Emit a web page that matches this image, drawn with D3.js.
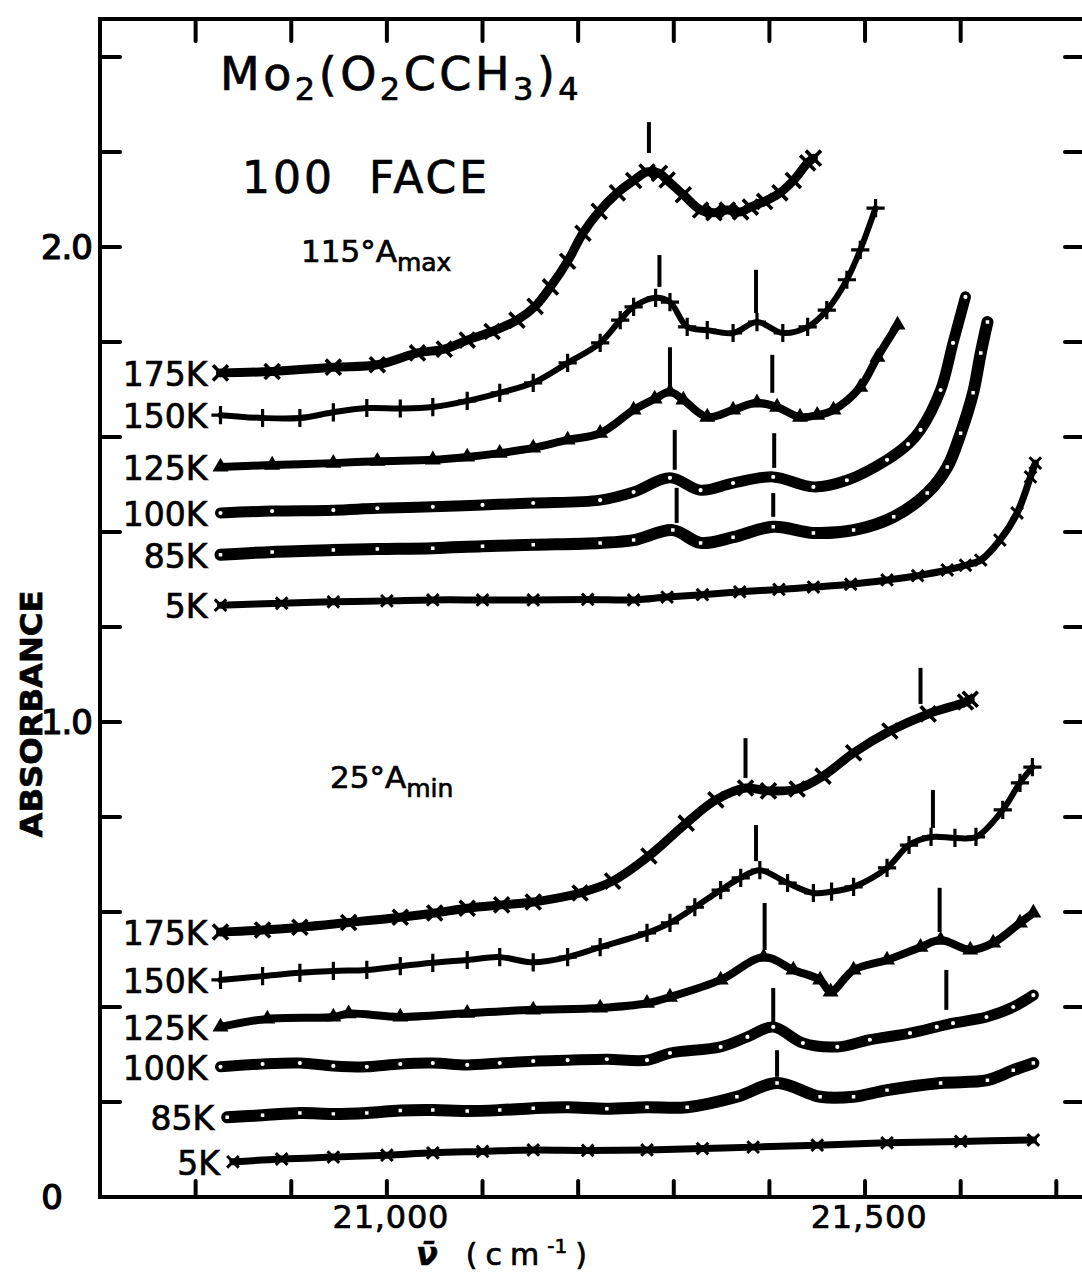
<!DOCTYPE html>
<html>
<head>
<meta charset="utf-8">
<script src="https://cdn.jsdelivr.net/npm/d3@7"></script>
<style>
  html, body { margin: 0; padding: 0; background: #fff; }
  svg { display: block; }
  text { font-family: "DejaVu Sans", "Noto Sans", sans-serif; fill: #000; stroke: #000; stroke-width: 0.7; }
</style>
</head>
<body>
<svg id="chart" width="1082" height="1273"></svg>
<script>
// Absorbance spectra of Mo2(O2CCH3)4, (100) face — [wavenumber cm^-1, absorbance]

// 115° polarisation (A max)
const max175K = [[20826,1.735],[20880,1.738],[20944,1.747],[20990,1.752],[21032,1.777],[21060,1.785],[21084,1.804],[21110,1.822],[21136,1.846],[21155,1.875],[21171,1.916],[21189,1.970],[21205,2.029],[21222,2.075],[21241,2.114],[21258,2.140],[21272,2.158],[21285,2.155],[21293,2.141],[21310,2.110],[21328,2.078],[21342,2.072],[21356,2.078],[21370,2.074],[21380,2.084],[21395,2.096],[21411,2.114],[21425,2.140],[21440,2.177],[21446,2.187]];
const max150K = [[20826,1.646],[20870,1.640],[20909,1.640],[20944,1.652],[20979,1.661],[21014,1.660],[21048,1.663],[21084,1.676],[21118,1.693],[21153,1.714],[21189,1.756],[21223,1.798],[21244,1.846],[21258,1.874],[21281,1.893],[21296,1.884],[21314,1.832],[21335,1.825],[21362,1.819],[21387,1.842],[21414,1.819],[21440,1.832],[21460,1.867],[21481,1.931],[21495,1.994],[21511,2.082]];
const max125K = [[20826,1.537],[20880,1.541],[20944,1.545],[20990,1.549],[21048,1.552],[21084,1.558],[21118,1.566],[21153,1.577],[21189,1.594],[21223,1.608],[21258,1.657],[21280,1.680],[21296,1.695],[21310,1.678],[21335,1.642],[21362,1.657],[21387,1.672],[21408,1.663],[21432,1.642],[21450,1.646],[21467,1.657],[21495,1.705],[21513,1.768],[21534,1.836]];
const max100K = [[20826,1.440],[20880,1.444],[20944,1.446],[20990,1.450],[21048,1.453],[21100,1.457],[21153,1.461],[21223,1.467],[21258,1.484],[21296,1.514],[21328,1.488],[21362,1.503],[21404,1.516],[21446,1.495],[21481,1.509],[21523,1.552],[21545,1.585],[21558,1.615],[21579,1.699],[21592,1.798],[21605,1.895]];
const max85K = [[20826,1.352],[20880,1.358],[20944,1.362],[20990,1.364],[21048,1.366],[21100,1.370],[21153,1.373],[21223,1.377],[21258,1.383],[21299,1.404],[21328,1.377],[21362,1.389],[21404,1.411],[21446,1.398],[21488,1.404],[21530,1.432],[21565,1.482],[21586,1.537],[21600,1.608],[21613,1.693],[21621,1.777],[21628,1.842]];
const max5K = [[20826,1.246],[20890,1.250],[20944,1.253],[21000,1.255],[21048,1.257],[21100,1.257],[21153,1.257],[21210,1.258],[21258,1.257],[21293,1.263],[21330,1.268],[21369,1.274],[21410,1.279],[21446,1.284],[21485,1.290],[21523,1.299],[21555,1.308],[21586,1.320],[21605,1.330],[21621,1.341],[21641,1.383],[21659,1.440],[21673,1.516],[21678,1.545]];

// 25° polarisation (A min)
const min175K = [[20826,0.558],[20870,0.562],[20909,0.568],[20960,0.578],[21014,0.589],[21050,0.598],[21084,0.608],[21120,0.615],[21153,0.621],[21202,0.640],[21236,0.665],[21274,0.718],[21313,0.787],[21344,0.836],[21375,0.861],[21399,0.855],[21429,0.859],[21456,0.886],[21488,0.935],[21526,0.981],[21566,1.017],[21605,1.042],[21610,1.048]];
const min150K = [[20826,0.457],[20870,0.465],[20909,0.472],[20944,0.476],[20979,0.478],[21014,0.486],[21048,0.493],[21084,0.499],[21118,0.505],[21153,0.494],[21189,0.505],[21223,0.526],[21272,0.556],[21296,0.577],[21322,0.610],[21349,0.646],[21370,0.672],[21390,0.688],[21419,0.661],[21446,0.640],[21465,0.643],[21488,0.653],[21523,0.693],[21546,0.741],[21569,0.758],[21594,0.756],[21616,0.758],[21644,0.815],[21662,0.872],[21675,0.905]];
const min125K = [[20826,0.358],[20875,0.375],[20944,0.379],[20960,0.386],[21014,0.379],[21084,0.387],[21153,0.394],[21223,0.398],[21272,0.408],[21296,0.421],[21349,0.457],[21394,0.505],[21425,0.478],[21453,0.457],[21464,0.432],[21488,0.478],[21523,0.499],[21558,0.526],[21579,0.541],[21610,0.520],[21634,0.535],[21662,0.577],[21676,0.598]];
const min100K = [[20826,0.274],[20870,0.280],[20909,0.282],[20944,0.276],[20979,0.274],[21014,0.280],[21048,0.282],[21084,0.278],[21118,0.282],[21153,0.286],[21189,0.288],[21230,0.290],[21272,0.288],[21296,0.303],[21349,0.316],[21377,0.337],[21404,0.358],[21435,0.324],[21471,0.316],[21505,0.331],[21547,0.345],[21575,0.358],[21592,0.366],[21627,0.379],[21655,0.400],[21676,0.425]];
const min85K = [[20833,0.168],[20870,0.172],[20909,0.177],[20944,0.175],[20979,0.177],[21014,0.182],[21048,0.183],[21084,0.181],[21118,0.183],[21153,0.187],[21189,0.189],[21230,0.186],[21272,0.189],[21314,0.189],[21366,0.211],[21408,0.240],[21453,0.211],[21488,0.211],[21523,0.225],[21579,0.240],[21628,0.246],[21655,0.267],[21676,0.282]];
const min5K = [[20839,0.074],[20890,0.080],[20944,0.084],[21000,0.088],[21048,0.093],[21100,0.096],[21153,0.099],[21210,0.098],[21272,0.099],[21330,0.102],[21383,0.105],[21450,0.109],[21523,0.114],[21600,0.117],[21676,0.120]];

const temperatures = ["175K", "150K", "125K", "100K", "85K", "5K"];
const maxSeries = [max175K, max150K, max125K, max100K, max85K, max5K];
const minSeries = [min175K, min150K, min125K, min100K, min85K, min5K];

// band positions marked above the curves: [wavenumber, lower absorbance, upper absorbance]
const maxBands = [[21274,2.198,2.263],[21285,1.916,1.983],[21386,1.861,1.952],[21296,1.705,1.789],[21403,1.693,1.773],[21301,1.531,1.615],[21405,1.535,1.608],[21303,1.419,1.493],[21404,1.432,1.482]];
const minBands = [[21375,0.882,0.966],[21558,1.038,1.114],[21386,0.707,0.783],[21571,0.777,0.857],[21395,0.520,0.619],[21578,0.558,0.651],[21404,0.368,0.440],[21585,0.394,0.478],[21408,0.253,0.309]];

const xTickValues = [20800, 20900, 21000, 21100, 21200, 21300, 21400, 21500, 21600, 21700];
const xTickLabels = [[21000, "21,000"], [21500, "21,500"]];
const yTickValues = [0.2, 0.4, 0.6, 0.8, 1.0, 1.2, 1.4, 1.6, 1.8, 2.0, 2.2, 2.4];
const yTickLabels = [[0, "0"], [1.0, "1.0"], [2.0, "2.0"]];

const svg = d3.select("#chart");
svg.append("rect").attr("width", 1082).attr("height", 1273).attr("fill", "#fff");

const x = d3.scaleLinear().domain([20700, 21730]).range([100, 1085]);
const y = d3.scaleLinear().domain([0, 2.48]).range([1197, 19]);

// frame
const [x0, x1] = x.range();
const [yb, yt] = y.range();
svg.append("rect")
  .attr("x", x0).attr("y", yt).attr("width", x1 - x0).attr("height", yb - yt)
  .attr("fill", "none").attr("stroke", "#000").attr("stroke-width", 4);

// inward ticks on all four sides
const ticks = svg.append("g").attr("stroke", "#000").attr("stroke-width", 4).attr("stroke-linecap", "round");
ticks.selectAll(".tb").data(xTickValues).join("line")
  .attr("x1", d => x(d)).attr("x2", d => x(d)).attr("y1", yb).attr("y2", yb - 16);
ticks.selectAll(".tt").data(xTickValues.filter(d => d < 21700)).join("line")
  .attr("x1", d => x(d)).attr("x2", d => x(d)).attr("y1", yt).attr("y2", yt + 22);
ticks.selectAll(".tl").data(yTickValues).join("line")
  .attr("y1", d => y(d)).attr("y2", d => y(d)).attr("x1", x0).attr("x2", x0 + 20);
ticks.selectAll(".tr").data(yTickValues).join("line")
  .attr("y1", d => y(d)).attr("y2", d => y(d)).attr("x1", x1).attr("x2", x1 - 20);

// tick labels
svg.selectAll(".xl").data(xTickLabels).join("text")
  .attr("x", d => x(d[0]) + 4).attr("y", yb + 31)
  .attr("text-anchor", "middle").attr("font-size", 32)
  .attr("font-family", "'Liberation Sans', Arial, sans-serif")
  .attr("letter-spacing", 0.8)
  .text(d => d[1]);
svg.selectAll(".yl").data(yTickLabels).join("text")
  .attr("x", d => d[0] === 0 ? 62 : 92).attr("y", d => y(d[0]) + 12)
  .attr("text-anchor", "end").attr("font-size", 34).attr("letter-spacing", -1)
  .attr("font-family", "'Liberation Sans', Arial, sans-serif")
  .style("stroke-width", 1.2)
  .text(d => d[1]);

// axis titles
svg.append("text")
  .attr("transform", `translate(42, ${y(1.0) - 8}) rotate(-90)`)
  .attr("text-anchor", "middle").attr("font-size", 31).attr("font-weight", "bold")
  .attr("textLength", 247).attr("lengthAdjust", "spacingAndGlyphs")
  .text("ABSORBANCE");

const xt = svg.append("text").attr("x", 416).attr("y", 1265).attr("font-size", 30);
xt.append("tspan").attr("font-style", "italic").attr("font-weight", "bold").attr("font-size", 32).text("\u03BD\u0304");
xt.append("tspan").attr("dx", 28).attr("letter-spacing", 8).text("(cm");
xt.append("tspan").attr("dy", -12).attr("font-size", 20).text("-1");
xt.append("tspan").attr("dy", 12).attr("dx", 8).text(")");

// headings
const title = svg.append("text").attr("x", 220).attr("y", 90).attr("font-size", 44).attr("letter-spacing", 3.5);
[["Mo", 0], ["2", 1], ["(O", 0], ["2", 1], ["CCH", 0], ["3", 1], [")", 0], ["4", 1]].forEach(([t, sub], i, arr) => {
  const prevSub = i > 0 ? arr[i - 1][1] : 0;
  title.append("tspan")
    .attr("dy", sub && !prevSub ? 10 : (!sub && prevSub ? -10 : 0))
    .attr("font-size", sub ? 32 : 46)
    .text(t);
});

svg.append("text").attr("x", 242).attr("y", 193).attr("font-size", 44)
  .attr("letter-spacing", 3).attr("xml:space", "preserve").text("100  FACE");

function polLabel(txt, sub, px, py) {
  const t = svg.append("text").attr("x", px).attr("y", py).attr("font-size", 31);
  t.append("tspan").text(txt);
  t.append("tspan").attr("dy", 9).attr("font-size", 25).text(sub);
}
polLabel("115°A", "max", 301, 262);
polLabel("25°A", "min", 330, 788);

// spectra
const line = d3.line().x(d => x(d[0])).y(d => y(d[1])).curve(d3.curveCatmullRom.alpha(0.5));

const markers = [
  { shape: d3.symbolTimes, size: 150, width: 9, sw: 3.6, fill: "none" },
  { shape: d3.symbolPlus, size: 110, width: 6, sw: 3.2, fill: "none" },
  { shape: d3.symbolTriangle, size: 110, width: 8, sw: 0, fill: "#000" },
  { shape: d3.symbolCircle, size: 30, width: 11, sw: 2, fill: "#fff" },
  { shape: d3.symbolSquare, size: 30, width: 12, sw: 2, fill: "#fff" },
  { shape: d3.symbolTimes, size: 90, width: 7, sw: 3, fill: "none" }
];

function drawSet(series) {
  series.forEach((data, i) => {
    const m = markers[i];
    const g = svg.append("g");
    g.append("path").datum(data).attr("d", line)
      .attr("fill", "none").attr("stroke", "#000")
      .attr("stroke-width", m.width).attr("stroke-linejoin", "round").attr("stroke-linecap", "round");
    g.selectAll("path.m").data(data).join("path").attr("class", "m")
      .attr("transform", d => `translate(${x(d[0])},${y(d[1])})`)
      .attr("d", d3.symbol(m.shape, m.size))
      .attr("fill", m.fill)
      .attr("stroke", "#000").attr("stroke-width", m.sw);
    // temperature label beside the start of each trace
    svg.append("text")
      .attr("x", x(data[0][0]) - 13).attr("y", y(data[0][1]) + 13)
      .attr("text-anchor", "end").attr("font-size", 33)
      .text(temperatures[i]);
  });
}
drawSet(maxSeries);
drawSet(minSeries);

// band markers
svg.append("g").attr("stroke", "#000").attr("stroke-width", 4)
  .selectAll("line").data(maxBands.concat(minBands)).join("line")
  .attr("x1", d => x(d[0])).attr("x2", d => x(d[0]))
  .attr("y1", d => y(d[1])).attr("y2", d => y(d[2]));
</script>
</body>
</html>
